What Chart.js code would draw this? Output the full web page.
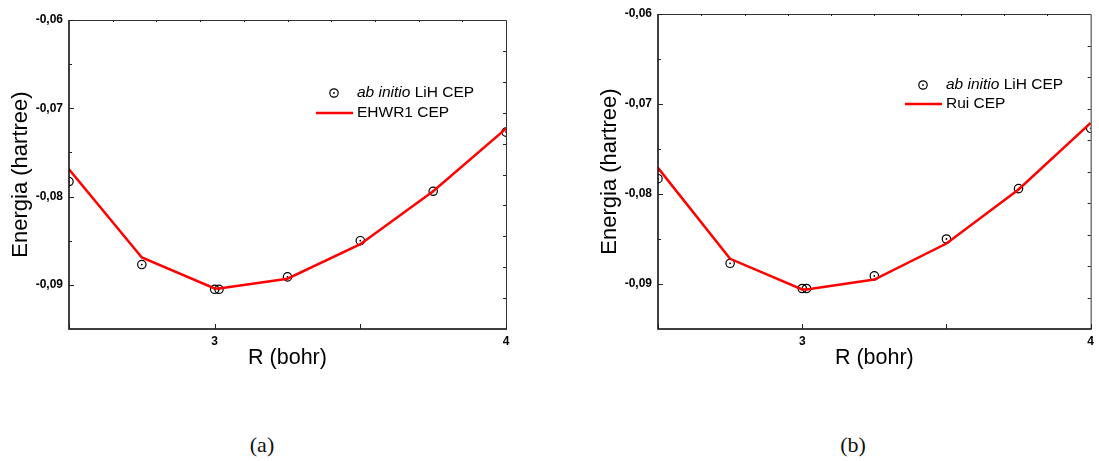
<!DOCTYPE html>
<html>
<head>
<meta charset="utf-8">
<script src="https://cdn.jsdelivr.net/npm/chart.js@4/dist/chart.umd.min.js"></script>
<style>
  body { margin: 0; width: 1099px; height: 461px; overflow: hidden; background: #fff; position: relative; }
  #chartA { position: absolute; left: 0; top: 0; }
  #chartB { position: absolute; left: 589px; top: 0; }
  .cap { position: absolute; top: 432px; transform: translateX(-50%); font-family: "Liberation Serif", "DejaVu Serif", serif; font-size: 22px; color: #111; }
</style>
</head>
<body>
<canvas id="chartA" width="560" height="400"></canvas>
<canvas id="chartB" width="510" height="400"></canvas>
<div class="cap" style="left:262px">(a)</div>
<div class="cap" style="left:853px">(b)</div>
<script>
// R in bohr, energies in hartree
const rBohr = [2.5, 2.75, 3.0, 3.015, 3.25, 3.5, 3.75, 4.0];
const abInitio = [-0.0783, -0.0877, -0.0905, -0.0905, -0.0891, -0.0850, -0.0794, -0.0727];
const ehwr1Cep = [-0.0769, -0.0869, -0.0904, -0.0904, -0.0893, -0.0854, -0.0794, -0.0723];
const ruiCep = [-0.0771, -0.0872, -0.0906, -0.0906, -0.0895, -0.0855, -0.0795, -0.0721];

const xTicks = [3, 4];
const xMinor = [2.5, 3.5];
const yTicks = [-0.09, -0.08, -0.07, -0.06];
const yMinor = [-0.085, -0.075, -0.065];
const sideDivs = [1, 2, 3, 4, 5, 6, 7, 8, 9]; // unlabeled top/right axis ticks (tenths)

const sans = '"Liberation Sans", Arial, sans-serif';

// box around the plot with inward ticks
const framePlugin = {
    id: "frame",
    afterDatasetsDraw(chart) {
        const { ctx, chartArea: a, scales: { x, y } } = chart;
        ctx.save();
        ctx.strokeStyle = "#333";
        ctx.lineWidth = 1;
        ctx.beginPath();
        ctx.moveTo(a.left, a.top + 0.5);
        ctx.lineTo(a.right + 0.5, a.top + 0.5);
        ctx.lineTo(a.right + 0.5, a.bottom);
        ctx.stroke();

        ctx.strokeStyle = "#000";
        ctx.lineWidth = 1.5;
        ctx.beginPath();
        ctx.moveTo(a.left, a.top);
        ctx.lineTo(a.left, a.bottom);
        ctx.lineTo(a.right + 1, a.bottom);
        ctx.stroke();

        ctx.lineWidth = 1;
        ctx.strokeStyle = "#222";
        ctx.beginPath();
        yTicks.forEach(v => { const p = Math.round(y.getPixelForValue(v)) + 0.5; ctx.moveTo(a.left, p); ctx.lineTo(a.left + 5, p); });
        yMinor.forEach(v => { const p = Math.round(y.getPixelForValue(v)) + 0.5; ctx.moveTo(a.left, p); ctx.lineTo(a.left + 3, p); });
        xTicks.concat(xMinor).forEach(v => { const p = Math.round(x.getPixelForValue(v)) + 0.5; ctx.moveTo(p, a.bottom); ctx.lineTo(p, a.bottom - 5); });
        sideDivs.forEach(k => {
            const py = Math.round(a.top + (a.bottom - a.top) * k / 10) + 0.5;
            ctx.moveTo(a.right, py); ctx.lineTo(a.right - 3, py);
            const px = Math.round(a.left + (a.right - a.left) * k / 10) + 0.5;
            ctx.moveTo(px, a.top); ctx.lineTo(px, a.top + 2);
        });
        ctx.stroke();
        ctx.restore();
    }
};

// legend inside the plot
const boxLegend = {
    id: "boxLegend",
    afterDraw(chart, args, opts) {
        const ctx = chart.ctx;
        const mx = opts.x + 18;
        ctx.save();
        ctx.strokeStyle = "#000";
        ctx.lineWidth = 1.2;
        ctx.beginPath();
        ctx.arc(mx, opts.y1, 4.2, 0, Math.PI * 2);
        ctx.stroke();
        ctx.fillStyle = "#000";
        ctx.beginPath();
        ctx.arc(mx, opts.y1, 0.9, 0, Math.PI * 2);
        ctx.fill();
        ctx.strokeStyle = "#ff0000";
        ctx.lineWidth = 2.5;
        ctx.beginPath();
        ctx.moveTo(opts.x, opts.y2);
        ctx.lineTo(opts.x + 37, opts.y2);
        ctx.stroke();
        ctx.fillStyle = "#000";
        ctx.textBaseline = "middle";
        ctx.font = "italic 15.5px " + sans;
        ctx.fillText("ab initio", opts.x + 41, opts.y1);
        const w = ctx.measureText("ab initio ").width;
        ctx.font = "15.5px " + sans;
        ctx.fillText("LiH CEP", opts.x + 41 + w, opts.y1);
        ctx.fillText(opts.lineLabel, opts.x + 41, opts.y2);
        ctx.restore();
    }
};

function buildChart(id, lineLabel, lineValues, top, right, legendPos) {
    const pts = rBohr.map((r, i) => ({ x: r, y: abInitio[i] }));
    return new Chart(document.getElementById(id), {
        type: "scatter",
        data: {
            datasets: [
                {
                    label: lineLabel,
                    data: rBohr.map((r, i) => ({ x: r, y: lineValues[i] })),
                    showLine: true,
                    borderColor: "#ff0000",
                    borderWidth: 2.5,
                    pointRadius: 0,
                    tension: 0,
                    order: 0
                },
                {
                    label: "ab initio LiH CEP",
                    data: pts,
                    pointStyle: "circle",
                    pointRadius: 4.2,
                    borderWidth: 1.2,
                    borderColor: "#000",
                    backgroundColor: "rgba(255,255,255,0)",
                    clip: 0,
                    order: 1
                },
                {
                    label: "centres",
                    data: pts,
                    pointStyle: "circle",
                    pointRadius: 0.9,
                    borderWidth: 0,
                    backgroundColor: "#000",
                    clip: 0,
                    order: 2
                }
            ]
        },
        options: {
            responsive: false,
            animation: false,
            layout: { padding: { left: 0, top: top, right: right, bottom: 0 } },
            plugins: {
                legend: { display: false },
                tooltip: { enabled: false },
                boxLegend: Object.assign({ lineLabel: lineLabel }, legendPos)
            },
            scales: {
                x: {
                    type: "linear",
                    min: 2.5,
                    max: 4,
                    grid: { display: false, drawTicks: false },
                    border: { display: false },
                    afterBuildTicks: s => { s.ticks = xTicks.map(v => ({ value: v })); },
                    afterFit: s => { s.height = 71; },
                    ticks: { padding: 5, color: "#000", font: { family: sans, size: 12, weight: "bold" }, callback: v => String(v) },
                    title: { display: true, text: "R (bohr)", color: "#000", font: { family: sans, size: 21.5 }, padding: { top: 0, bottom: 29 } }
                },
                y: {
                    min: -0.095,
                    max: -0.06,
                    grid: { display: false, drawTicks: false },
                    border: { display: false },
                    afterBuildTicks: s => { s.ticks = yTicks.map(v => ({ value: v })); },
                    afterFit: s => { s.width = 69; },
                    ticks: { padding: 6, color: "#000", font: { family: sans, size: 12, weight: "bold" }, callback: v => v.toFixed(2).replace(".", ",") },
                    title: { display: true, text: "Energia (hartree)", color: "#000", font: { family: sans, size: 22 }, padding: { top: 8, bottom: 0 } }
                }
            }
        },
        plugins: [framePlugin, boxLegend]
    });
}

buildChart("chartA", "EHWR1 CEP", ehwr1Cep, 20, 54, { x: 316, y1: 93, y2: 113 });
buildChart("chartB", "Rui CEP", ruiCep, 14, 2, { x: 316, y1: 85, y2: 104 });
</script>
</body>
</html>
